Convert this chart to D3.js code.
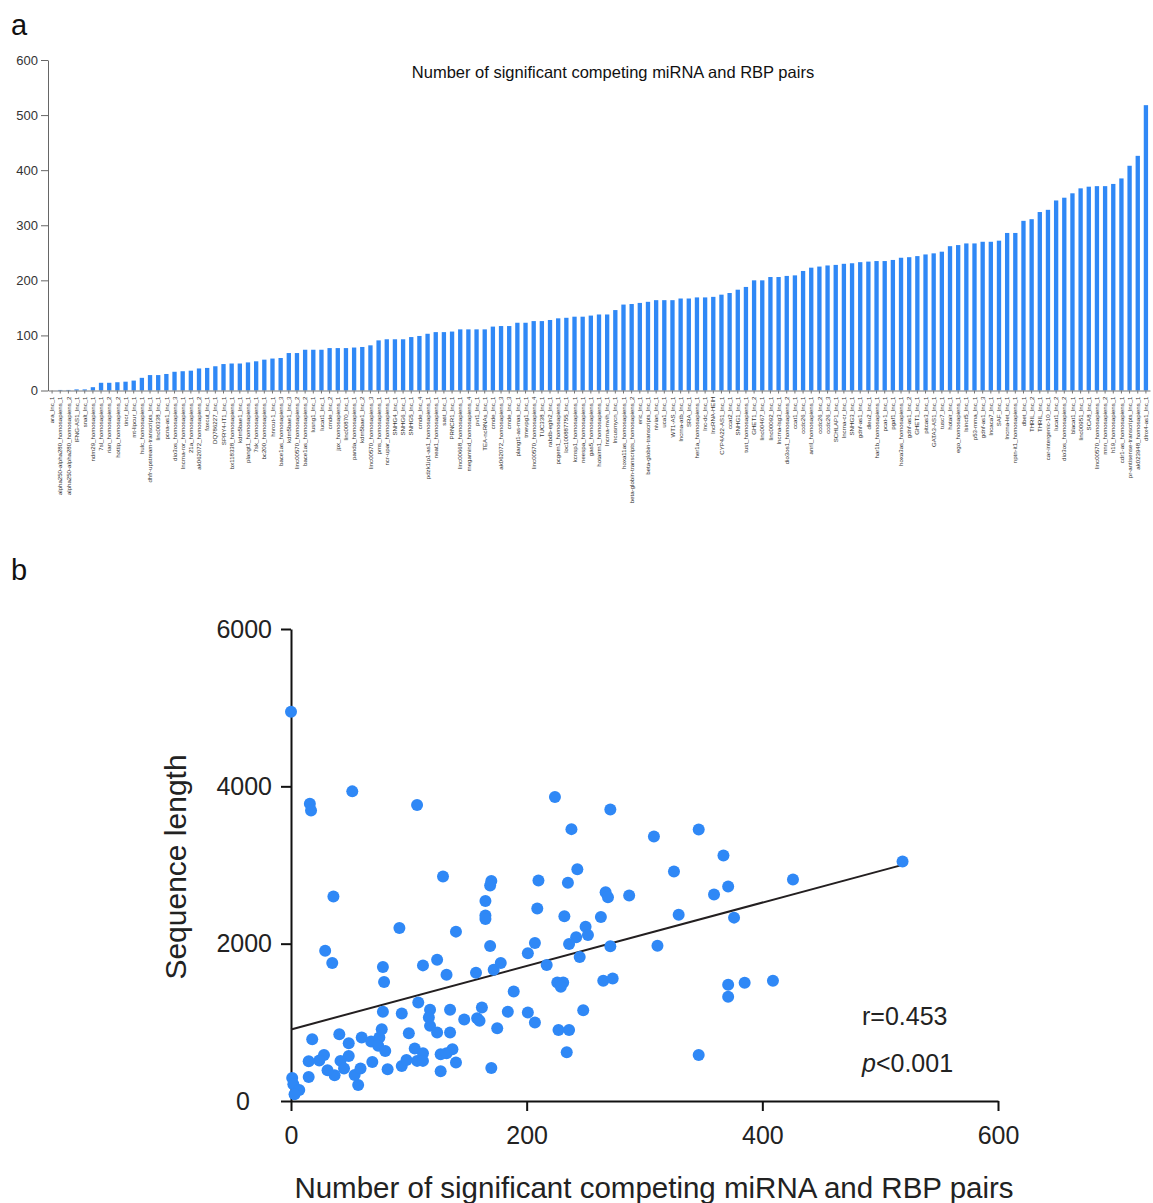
<!DOCTYPE html>
<html>
<head>
<meta charset="utf-8">
<script src="https://cdn.jsdelivr.net/npm/d3@7"></script>
<style>
  body { margin: 0; background: #fff; }
  text { font-family: "Liberation Sans", Arial, Helvetica, sans-serif; }
</style>
</head>
<body>
<svg id="chart" width="1153" height="1203"></svg>
<script>
// panel a: lncRNA names, sorted by number of pairs
var barLabels = ["ara_lnc_1","alpha250-alpha280_homosapiens_1","alpha250-alpha280_homosapiens_2","IFNG-AS1_lnc_1","snalt_lnc_1",
  "ndm29_homosapiens_1","7sl_homosapiens_1","rian_homosapiens_2","hottip_homosapiens_2","tincr_lnc_1",
  "mt-lipcur_lnc_1","hulc_homosapiens_1","dhfr-upstream-transcripts_lnc_1","linc00338_lnc_1","pcna-as1_lnc_1",
  "dio3os_homosapiens_3","lncrna-ror_homosapiens_1","21a_homosapiens_1","ak062072_homosapiens_2","foxcut_lnc_1",
  "DQ786227_lnc_1","SPRY4-IT1_lnc_1","bx118338_homosapiens_1","kdm5bae1_lnc_1","plangt1_homosapiens_1",
  "7sk_homosapiens_1","bc200_homosapiens_1","hnrcut-1_lnc_1","bace1as_homosapiens_3","kdm5bae1_lnc_3",
  "linc00570_homosapiens_2","bace1as_homosapiens_2","lusng1_lnc_1","lucat1_lnc_1","cmde_lnc_2",
  "jpx_homosapiens_1","linc00870_lnc_1","panda_homosapiens_1","kdm5bae1_lnc_2","linc00570_homosapiens_3",
  "pms_homosapiens_1","ncr-upar_homosapiens_1","SNHG4_lnc_1","SNHG6_lnc_1","SNHG5_lnc_1",
  "cmde_lnc_4","pdzk1ip1-as1_homosapiens_1","neat1_homosapiens_1","sast_lnc_1","PRNCR1_lnc_1",
  "linc00668_homosapiens_1","megamind_homosapiens_4","pvt1_lnc_1","TEA-ncRNAs_lnc_1","cmde_lnc_1",
  "ak062072_homosapiens_3","cmde_lnc_3","plangt1-as-mas_lnc_1","tmevpg1_lnc_1","linc00570_homosapiens_4",
  "TUC338_lnc_1","rabdb-egln2_lnc_1","pcgem1_homosapiens_1","loc100887755_lnc_1","kcnsp1_homosapiens_1",
  "neespa_homosapiens_1","gas5_homosapiens_1","hotairm1_homosapiens_1","lncrna-mvih_lnc_1","lncusmycn_lnc_1",
  "hoxa11as_homosapiens_1","beta-globin-transcripts_homosapiens_2","eric_lnc_1","beta-globin-transcripts_lnc_1","nivian_lnc_1",
  "uca1_lnc_1","WT1-AS_lnc_1","lncrna-atb_lnc_1","SRA_lnc_1","her1a_homosapiens_1",
  "lnc-dc_lnc_1","lncRNA-HEIH","CYP4A22-AS1_lnc_1","ccat2_lnc_1","SNHG1_lnc_1",
  "tust_homosapiens_1","GHET1_lnc_2","linc00467_lnc_1","linc00092_lnc_1","lncrna-lsg3_lnc_1",
  "dio3os1_homosapiens_2","ccat1_lnc_1","ccdc26_lnc_1","anril_homosapiens_1","ccdc26_lnc_2",
  "ccdc26_lnc_3","SCHLAP1_lnc_1","lncrna-cr_lnc_1","SNHG3_lnc_1","gdnf-as1_lnc_1",
  "dleu2_lnc_1","har1b_homosapiens_1","pcat-1_lnc_1","pgaf1_lnc_1","hoxa3as_homosapiens_1",
  "gdnf-as1_lnc_2","GHET1_lnc_1","pitcas3_lnc_1","GATA3-AS1_lnc_1","tusc7_lnc_1",
  "hotair_lnc_1","ego_homosapiens_1","lsinct5_lnc_1","p53-mma_lnc_1","gdnf-as1_lnc_3",
  "lncaca7_lnc_1","SAF_lnc_1","lncrna-let_lnc_1","nptn-it1_homosapiens_1","dbet_lnc_1",
  "THRIL_lnc_2","THRIL_lnc_1","car-intergenic-10_lnc_1","lucat1_lnc_2","dio3os_homosapiens_2",
  "blacat1_lnc_1","linc00951_lnc_1","SCA8_lnc_1","linc00570_homosapiens_1","mnn_homosapiens_2",
  "h19_homosapiens_1","cdr1-as_homosapiens_1","pr-antisense-transcripts_lnc_1","ak023948_homosapiens_1","dlnx4-as1_lnc_1"];

var barValues = [0,1,1,2,2, 6,14,14,15,16, 18,23,28,28,30, 34,35,36,40,41,
  44,48,49,49,51, 53,56,58,59,68, 68,74,74,74,77, 77,77,78,79,82,
  91,93,93,93,97, 99,103,106,106,107, 111,111,111,111,116, 117,117,123,123,126,
  126,128,131,132,134, 134,136,138,138,146, 156,157,159,161,164, 164,164,167,167,169,
  169,170,174,177,183, 188,200,200,206,206, 208,209,217,223,225, 227,228,230,231,233,
  234,235,235,237,241, 242,244,247,249,252, 262,264,267,267,270, 270,272,286,286,308,
  311,324,328,345,350, 358,367,370,371,371, 375,385,408,426,518];

var barTicks = [0,100,200,300,400,500,600];
var barTitle = "Number of significant competing miRNA and RBP pairs";

// panel b: pairs vs sequence length
var pairsX = [0,16,17,52,107,224,271,238,243,129, 170,169,210,235,267,269,287,36,165,165,
  165,209,232,263,92,140,250,252,242,236, 207,271,169,29,35,201,245,217,78,79,
  112,124,132,157,172,178,226,231,229,265, 273,189,108,78,94,118,117,118,124,135,
  135,147,162,158,160,184,201,207,175,248, 227,236,234,170,18,41,49,60,49,42,
  45,37,31,28,24,15,15,1,2,7, 3,57,54,59,69,68,75,74,77,80,
  82,94,98,100,105,107,112,112,127,137, 132,140,127,
  308,346,367,325,359,371,329,376,311,426, 371,371,385,409,346,519];
var lengthY = [4947,3779,3694,3936,3762,3864,3707,3456,2947,2853, 2798,2739,2802,2773,2654,2590,2611,2599,2543,2357,
  2314,2446,2348,2340,2199,2153,2216,2110,2081,1996, 2008,1966,1970,1911,1754,1877,1830,1728,1703,1512,
  1724,1796,1605,1630,1669,1754,1507,1507,1452,1529, 1558,1393,1253,1134,1112,1159,1062,955,870,1159,
  870,1036,1189,1053,1019,1134,1125,998,926,1155, 904,904,620,420,786,849,735,807,573,510,
  412,327,391,586,514,505,306,293,212,140, 85,204,331,412,497,756,807,701,913,637,
  403,446,522,862,667,510,607,510,594,658, 607,488,378,
  3363,3452,3121,2917,2624,2726,2369,2331,1975,2815, 1478,1325,1503,1529,586,3045];

var scatterXTicks = [0,200,400,600];
var scatterYTicks = [0,2000,4000,6000];
var statR = "r=0.453";

var blue = "#2f88f6";
var svg = d3.select("#chart");

// ---------- panel a ----------
svg.append("text").attr("x", 11).attr("y", 35).attr("font-size", 29).attr("fill", "#111").text("a");

var xa = d3.scaleBand().domain(barLabels).range([48, 1150]).paddingInner(0.47).paddingOuter(0.235);
var ya = d3.scaleLinear().domain([0, 600]).range([390.5, 60]);

svg.append("text")
  .attr("x", 613).attr("y", 78)
  .attr("text-anchor", "middle")
  .attr("font-size", 16.5)
  .attr("fill", "#111")
  .text(barTitle);

svg.append("g")
  .selectAll("rect")
  .data(barValues)
  .enter().append("rect")
  .attr("x", function(d, i) { return xa(barLabels[i]); })
  .attr("width", xa.bandwidth())
  .attr("y", function(d) { return ya(d); })
  .attr("height", function(d) { return ya(0) - ya(d); })
  .attr("fill", blue);

var yAxisA = svg.append("g")
  .attr("transform", "translate(48,0)")
  .call(d3.axisLeft(ya).tickValues(barTicks).tickSize(7).tickSizeOuter(0).tickPadding(3));
yAxisA.selectAll("text").attr("font-size", 13).attr("fill", "#333").style("font-family", "Liberation Sans, Arial, sans-serif");
yAxisA.selectAll("line").attr("stroke", "#666");
yAxisA.select(".domain").attr("stroke", "#666");

var xAxisA = svg.append("g")
  .attr("transform", "translate(0," + ya(0) + ")")
  .call(d3.axisBottom(xa).tickSize(3).tickSizeOuter(0));
xAxisA.select(".domain").attr("stroke", "#777");
xAxisA.selectAll("line").attr("stroke", "#777");
xAxisA.selectAll("text")
  .attr("transform", "rotate(-90)")
  .attr("x", -6).attr("y", 0).attr("dy", "0.35em")
  .style("text-anchor", "end")
  .style("font-family", "Liberation Sans, Arial, sans-serif")
  .attr("font-size", 6.1)
  .attr("fill", "#333");

// ---------- panel b ----------
svg.append("text").attr("x", 11).attr("y", 580).attr("font-size", 29).attr("fill", "#111").text("b");

var xs = d3.scaleLinear().domain([0, 600]).range([291, 998]);
var ys = d3.scaleLinear().domain([0, 6000]).range([1101, 629]);

var xAxisB = svg.append("g")
  .attr("transform", "translate(0,1101)")
  .call(d3.axisBottom(xs).tickValues(scatterXTicks).tickSize(10).tickSizeOuter(0).tickPadding(15).tickFormat(d3.format("d")));
var yAxisB = svg.append("g")
  .attr("transform", "translate(291,0)")
  .call(d3.axisLeft(ys).tickValues(scatterYTicks).tickSize(10).tickSizeOuter(0).tickPadding(9).tickFormat(d3.format("d")));
[xAxisB, yAxisB].forEach(function(g) {
  g.select(".domain").attr("stroke", "#111").attr("stroke-width", 2);
  g.selectAll("line").attr("stroke", "#111").attr("stroke-width", 2);
  g.selectAll("text").attr("font-size", 25).attr("fill", "#222")
    .style("font-family", "Liberation Sans, Arial, sans-serif");
});
// the zero on the y axis sits further left in the original
yAxisB.selectAll(".tick text").filter(function(d) { return d === 0; }).attr("x", -41);

// least squares fit
var n = pairsX.length;
var mx = d3.mean(pairsX), my = d3.mean(lengthY);
var sxy = 0, sxx = 0;
for (var i = 0; i < n; i++) {
  sxy += (pairsX[i] - mx) * (lengthY[i] - my);
  sxx += (pairsX[i] - mx) * (pairsX[i] - mx);
}
var slope = sxy / sxx, icpt = my - slope * mx;
var xmax = d3.max(pairsX);

svg.append("path")
  .datum([0, xmax])
  .attr("fill", "none")
  .attr("stroke", "#231f20")
  .attr("stroke-width", 2)
  .attr("d", d3.line().x(function(d) { return xs(d); }).y(function(d) { return ys(icpt + slope * d); }));

svg.append("g")
  .selectAll("circle")
  .data(pairsX)
  .enter().append("circle")
  .attr("cx", function(d) { return xs(d); })
  .attr("cy", function(d, i) { return ys(lengthY[i]); })
  .attr("r", 6)
  .attr("fill", blue);

svg.append("text")
  .attr("x", 862).attr("y", 1025)
  .attr("font-size", 25).attr("fill", "#222")
  .text(statR);
var pt = svg.append("text")
  .attr("x", 862).attr("y", 1072)
  .attr("font-size", 25).attr("fill", "#222");
pt.append("tspan").attr("font-style", "italic").text("p");
pt.append("tspan").text("<0.001");

svg.append("text")
  .attr("transform", "translate(186,867) rotate(-90)")
  .attr("text-anchor", "middle")
  .attr("font-size", 30).attr("fill", "#222")
  .text("Sequence length");

svg.append("text")
  .attr("x", 654).attr("y", 1198)
  .attr("text-anchor", "middle")
  .attr("font-size", 29.5).attr("fill", "#222")
  .text("Number of significant competing miRNA and RBP pairs");
</script>
</body>
</html>
